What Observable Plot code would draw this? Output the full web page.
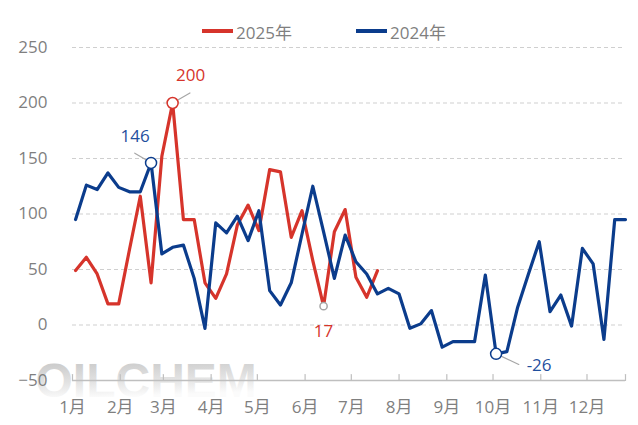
<!DOCTYPE html>
<html><head><meta charset="utf-8">
<script src="https://cdn.jsdelivr.net/npm/d3@7"></script>
<script src="https://cdn.jsdelivr.net/npm/@observablehq/plot@0.6"></script>
<style>
body{margin:0;background:#fff;}
#wrap{position:relative;width:638px;height:425px;font-family:"Open Sans","Noto Sans CJK SC",sans-serif;}
.lg{position:absolute;top:20px;height:22px;font-size:17px;color:#7f7f7f;display:flex;align-items:center;white-space:nowrap;}
.lg .sw{display:inline-block;width:31px;height:3.5px;margin-right:3px;}
</style></head><body><div id="wrap"></div>
<script>
// weekly dates (month-day), both years drawn on the same calendar axis
const weeks = ["01-03","01-10","01-17","01-24","01-31","02-07","02-14","02-21","02-28","03-07","03-14","03-21","03-28",
  "04-04","04-11","04-18","04-25","05-02","05-09","05-16","05-23","05-30","06-06","06-13","06-20","06-27",
  "07-04","07-11","07-18","07-25","08-01","08-08","08-15","08-22","08-29","09-05","09-12","09-19","09-26",
  "10-03","10-10","10-17","10-24","10-31","11-07","11-14","11-21","11-28","12-05","12-12","12-19","12-26"];
const seriesNames = ["2025年","2024年"];
const v2025 = [49,61,46,19,19,68,116,38,152,200,95,95,38,24,46,90,108,85,140,138,79,103,58,17,84,104,43,25,49];
const v2024 = [95,126,122,137,124,120,120,146,64,70,72,42,-3,92,83,98,76,103,31,18,38,82,125,84,42,81,57,46,28,33,28,
  -3,1,13,-20,-15,-15,-15,45,-26,-24,16,46,75,12,27,-1,69,55,-13,95,95];
const monthTicks = ["01-01","02-01","03-01","04-01","05-01","06-01","07-01","08-01","09-01","10-01","11-01","12-01"];
const monthLabels = ["1月","2月","3月","4月","5月","6月","7月","8月","9月","10月","11月","12月"];
const yTicks = [-50,0,50,100,150,200,250];
const axisEnd = "12-26";
// annotations: series, week index, label
const annoSeries = ["2025年","2024年","2025年","2024年"];
const annoIndex = [9,7,23,39];
const annoLabel = ["200","146","17","-26"];

const colors = {"2025年":"#d6342b","2024年":"#0b3c8c"};
const labelColors = {"2025年":"#d6342b","2024年":"#1f4f9e"};
const parse = s => new Date("2025-" + s + "T00:00:00Z");
const rows = [];
v2025.forEach((v,i)=>rows.push({date:parse(weeks[i]), value:v, series:"2025年"}));
v2024.forEach((v,i)=>rows.push({date:parse(weeks[i]), value:v, series:"2024年"}));
const anno = annoIndex.map((idx,k)=>{
  const s = annoSeries[k];
  const vals = s==="2025年" ? v2025 : v2024;
  return {date:parse(weeks[idx]), value:vals[idx], series:s, label:annoLabel[k]};
});
const tickDates = monthTicks.map(parse);
const seg = (r0) => ({draw(ctx, l){ ctx.moveTo(0,-r0); ctx.lineTo(0,-l); }});

// per-annotation styling
const annoStyle = [
  {r:5.5, stroke:colors["2025年"], dx:18, dy:-27, rot:60, len:20},
  {r:5.5, stroke:colors["2024年"], dx:-16, dy:-26, rot:-59, len:19},
  {r:3.6, stroke:"#a6a6a6", dx:0, dy:25, rot:null, len:0},
  {r:5.5, stroke:colors["2024年"], dx:43, dy:11.5, rot:115, len:25}
];

const marks = [
  Plot.gridY(yTicks.filter(d=>d>-50), {stroke:"#cfcfcf", strokeOpacity:1, strokeDasharray:"4,3", strokeWidth:1}),
  Plot.text(["OILCHEM"], {frameAnchor:"bottom-left", dx:-37, dy:16, textAnchor:"start", lineAnchor:"bottom",
    fontSize:48, fontWeight:"bold", fill:"url(#wmgrad)", ariaLabel:"watermark", fontFamily:"Liberation Sans, sans-serif"}),
  Plot.axisY(yTicks, {tickSize:0, tickPadding:25, fontSize:17, fill:"#7f7f7f", label:null}),
  Plot.ruleY([-50], {stroke:"#bfbfbf", strokeWidth:1.3}),
  Plot.vector(tickDates.concat([parse(axisEnd)]), {x:d=>d, y:()=>-50, length:6, rotate:0, anchor:"start", shape:seg(0), stroke:"#bfbfbf", strokeWidth:1.2}),
  Plot.axisX(tickDates, {tickSize:0, tickPadding:20, fontSize:17, fill:"#7f7f7f", label:null,
    tickFormat:d=>monthLabels[d.getUTCMonth()]}),
  Plot.line(rows.filter(d=>d.series==="2025年"), {x:"date", y:"value", stroke:colors["2025年"], strokeWidth:3.2, strokeLinejoin:"round"}),
  Plot.line(rows.filter(d=>d.series==="2024年"), {x:"date", y:"value", stroke:colors["2024年"], strokeWidth:3.2, strokeLinejoin:"round"})
];
anno.forEach((a,k)=>{
  const st = annoStyle[k];
  if (st.rot !== null) marks.push(Plot.vector([a], {x:"date", y:"value", length:st.len, rotate:st.rot, anchor:"start", shape:seg(st.r+0.5), stroke:"#a6a6a6", strokeWidth:1.2}));
  marks.push(Plot.dot([a], {x:"date", y:"value", r:st.r, stroke:st.stroke, fill:"white", strokeWidth:1.5}));
  marks.push(Plot.text([a], {x:"date", y:"value", text:"label", dx:st.dx, dy:st.dy, fill:labelColors[a.series], fontSize:17}));
});

const chart = Plot.plot({
  width:638, height:425, marginLeft:72, marginRight:13, marginTop:47, marginBottom:45,
  style:{fontFamily:'"Open Sans","Noto Sans CJK SC",sans-serif', fontSize:"17px", background:"#fff", overflow:"visible"},
  x:{type:"utc", domain:[parse("01-01"), parse(axisEnd)]},
  y:{domain:[-50,250]},
  marks
});
const svg = d3.select(chart);
const defs = svg.insert("defs", ":first-child");
const g = defs.append("linearGradient").attr("id","wmgrad").attr("x1","0").attr("y1","0").attr("x2","0.15").attr("y2","1");
g.append("stop").attr("offset","0.05").attr("stop-color","#c2c2c2");
g.append("stop").attr("offset","0.55").attr("stop-color","#e2e2e2");
g.append("stop").attr("offset","0.85").attr("stop-color","#fbfbfb");
svg.select('g[aria-label="watermark"] text').attr("textLength",220).attr("lengthAdjust","spacingAndGlyphs");

const wrap = document.getElementById("wrap");
wrap.appendChild(chart);
chart.style.position="absolute"; chart.style.left="0"; chart.style.top="0";
const legendPos = [202,356];
seriesNames.forEach((s,i)=>{
  const d = document.createElement("div");
  d.className="lg"; d.style.left=legendPos[i]+"px";
  d.innerHTML = `<span class="sw" style="background:${colors[s]}"></span>${s}`;
  wrap.appendChild(d);
});
</script></body></html>
